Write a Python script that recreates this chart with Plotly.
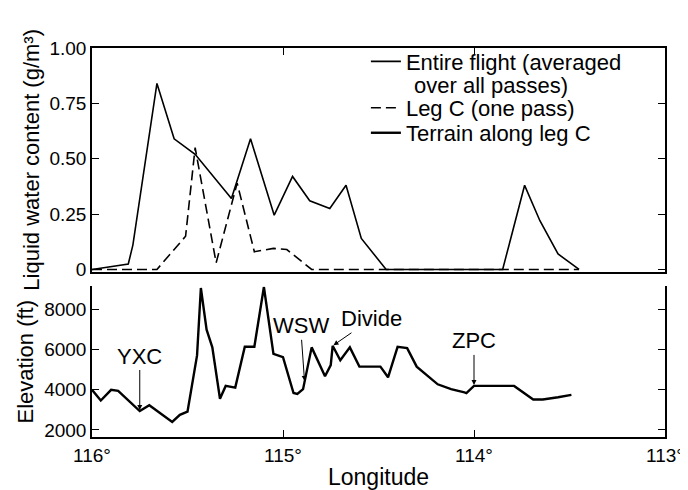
import plotly.graph_objects as go

# ---- data ----
lwc_lon = [116.0, 115.81, 115.786, 115.66, 115.57, 115.46, 115.27, 115.17, 115.046,
           114.95, 114.86, 114.755, 114.67, 114.59, 114.46, 113.85, 113.735, 113.655,
           113.56, 113.45]
lwc_all = [0, 0.025, 0.11, 0.84, 0.59, 0.52, 0.32, 0.59, 0.245,
           0.42, 0.31, 0.275, 0.38, 0.14, 0, 0, 0.38, 0.22, 0.07, 0]

legc_lon = [116.0, 115.66, 115.51, 115.46, 115.35, 115.24, 115.15, 115.05, 114.98, 114.85, 113.45]
legc_lwc = [0, 0, 0.15, 0.55, 0.03, 0.39, 0.08, 0.095, 0.09, 0, 0]

terrain_lon = [116.0, 115.954, 115.90, 115.863, 115.75, 115.70, 115.58, 115.54, 115.50,
               115.45, 115.43, 115.40, 115.37, 115.33, 115.30, 115.25, 115.20, 115.15,
               115.10, 115.05, 115.00, 114.945, 114.925, 114.895, 114.85, 114.78, 114.75,
               114.74, 114.70, 114.65, 114.60, 114.49, 114.45, 114.40, 114.35, 114.30,
               114.19, 114.12, 114.05, 114.04, 114.00, 113.79, 113.69, 113.64, 113.56, 113.49]
terrain_ft = [4000, 3470, 4000, 3950, 2945, 3235, 2400, 2755, 2910,
              5715, 9075, 7000, 6115, 3555, 4195, 4110, 6145, 6145,
              9125, 5790, 5630, 3840, 3795, 4035, 6115, 4675, 5235,
              6195, 5475, 6115, 5155, 5155, 4625, 6145, 6080, 5155,
              4275, 4035, 3870, 3840, 4195, 4195, 3520, 3520, 3630, 3750]

site_names = ["YXC", "WSW", "Divide", "ZPC"]
site_lon = [115.75, 114.887, 114.74, 114.00]
site_ft = [2945, 4400, 6195, 4195]

lon_ticks = [116, 115, 114, 113]
lon_labels = ["116°", "115°", "114°", "113°"]
lwc_ticks = [0, 0.25, 0.5, 0.75, 1.0]
lwc_labels = ["0", "0.25", "0.50", "0.75", "1.00"]
elev_ticks = [2000, 4000, 6000, 8000]

FONT = "Liberation Sans, Arial, Helvetica, sans-serif"

fig = go.Figure()
fig.add_trace(go.Scatter(x=lwc_lon, y=lwc_all, mode="lines", xaxis="x2", yaxis="y2",
                         name="Entire flight (averaged", legend="legend",
                         line=dict(color="black", width=1.6)))
fig.add_trace(go.Scatter(x=legc_lon, y=legc_lwc, mode="lines", xaxis="x2", yaxis="y2",
                         name="Leg C (one pass)", legend="legend2",
                         line=dict(color="black", width=1.6, dash="10px,5px")))
fig.add_trace(go.Scatter(x=terrain_lon, y=terrain_ft, mode="lines", xaxis="x", yaxis="y",
                         name="Terrain along leg C", legend="legend3",
                         line=dict(color="black", width=2.4)))

# continuation line of the first legend entry
fig.add_annotation(x=0.559, y=0.903, xref="paper", yref="paper", text="over all passes)",
                   showarrow=False, xanchor="left", yanchor="middle",
                   font=dict(size=22, color="black", family=FONT))

offsets = [(0, -55), (-4, -56), (39, -27), (0, -45)]
for name, lo, ft, (ax, ay) in zip(site_names, site_lon, site_ft, offsets):
    fig.add_annotation(x=lo, y=ft, xref="x", yref="y", text=name, showarrow=True,
                       ax=ax, ay=ay, arrowhead=2, arrowsize=1, arrowwidth=1,
                       arrowcolor="black", standoff=1,
                       font=dict(size=22, color="black", family=FONT))

axis_common = dict(showline=True, linecolor="black", linewidth=1.5, ticks="inside",
                   ticklen=7, tickwidth=1.3, tickcolor="black", showgrid=False,
                   zeroline=False, tickfont=dict(size=19, color="black", family=FONT))

legend_common = dict(x=0.478, xanchor="left", yanchor="middle", bgcolor="rgba(0,0,0,0)",
                     font=dict(size=22, color="black", family=FONT), valign="middle",
                     tracegroupgap=0, itemwidth=30)

fig.update_layout(
    width=688, height=490,
    margin=dict(l=84, r=19, t=40, b=47),
    paper_bgcolor="white", plot_bgcolor="white",
    font=dict(family=FONT, color="black"),
    showlegend=True,
    legend=dict(y=0.965, **legend_common),
    legend2=dict(y=0.846, **legend_common),
    legend3=dict(y=0.7816, **legend_common),
    xaxis=dict(range=[116, 113], domain=[0, 1], anchor="y", tickvals=lon_ticks,
               ticktext=lon_labels, mirror=False,
               title=dict(text="Longitude", font=dict(size=23, family=FONT), standoff=4),
               **axis_common),
    yaxis=dict(range=[1650, 9150], domain=[0, 0.387], anchor="x", tickvals=elev_ticks,
               mirror="ticks",
               title=dict(text="Elevation (ft)", font=dict(size=22, family=FONT), standoff=4),
               **axis_common),
    xaxis2=dict(range=[116, 113], domain=[0, 1], anchor="y2", side="top",
                tickvals=lon_ticks, showticklabels=False, mirror=True, **axis_common),
    yaxis2=dict(range=[-0.01, 1.0], domain=[0.425, 1], anchor="x2", tickvals=lwc_ticks,
                ticktext=lwc_labels, mirror="ticks",
                title=dict(text="Liquid water content (g/m³)", font=dict(size=22, family=FONT), standoff=4),
                **axis_common),
)

fig.write_html("out.html")
